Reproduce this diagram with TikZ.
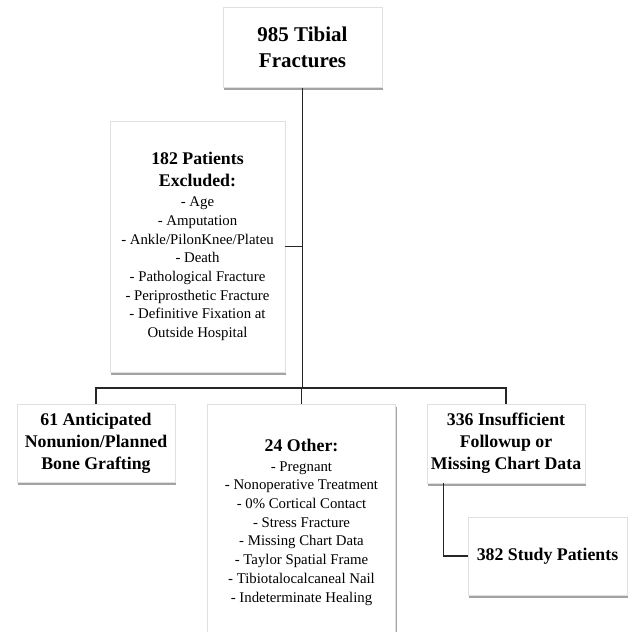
\documentclass[tikz,border=0pt]{standalone}
\usepackage{fontspec}
\setmainfont{Liberation Serif}
\usetikzlibrary{positioning}
\usetikzlibrary{shadows}

\begin{document}
\begin{tikzpicture}[
    x=1pt,y=-1pt,
    box/.style={rectangle,fill=white,draw=black!12,line width=0.4pt,drop shadow={shadow xshift=1.2pt,shadow yshift=-2.5pt,fill=black!45,opacity=0.8},text centered,align=center,inner sep=2pt},
    big/.style={box,font=\fontsize{21}{26}\selectfont\bfseries},
    head/.style={box,font=\fontsize{17.8}{22}\selectfont\bfseries},
    list/.style={box,font=\fontsize{14.8}{18.7}\selectfont},
    arr/.style={line width=1.3pt,draw=black!85}
    ]
    \useasboundingbox (0,0) rectangle (630,632);
    \clip (0,0) rectangle (630,632);
    \node (tibial) [big,minimum width=159pt,minimum height=80pt] at (302.5,47.5) {985 Tibial\\Fractures};
    \node (excl) [list,minimum width=175pt,minimum height=251pt] at (197.5,246.5) {{\fontsize{17.8}{22}\selectfont\bfseries 182 Patients}\\[3.3pt]
      {\fontsize{17.8}{22}\selectfont\bfseries Excluded:}\\[1.3pt]
      - Age\\ - Amputation\\ - Ankle/PilonKnee/Plateu\\ - Death\\ - Pathological Fracture\\
      - Periprosthetic Fracture\\ - Definitive Fixation at\\ Outside Hospital};
    \node (antic) [head,minimum width=158pt,minimum height=78pt] at (96,443) {61 Anticipated\\Nonunion/Planned\\Bone Grafting};
    \node (other) [list,minimum width=188pt,minimum height=236pt] at (301.5,522) {{\fontsize{17.8}{22}\selectfont\bfseries 24 Other:}\\[1.3pt]
      - Pregnant\\ - Nonoperative Treatment\\ - 0\% Cortical Contact\\ - Stress Fracture\\
      - Missing Chart Data\\ - Taylor Spatial Frame\\ - Tibiotalocalcaneal Nail\\ - Indeterminate Healing};
    \node (insuff) [head,minimum width=158pt,minimum height=79pt] at (506,443.5) {336 Insufficient\\Followup or\\Missing Chart Data};
    \node (study) [head,minimum width=159pt,minimum height=78pt] at (547.5,556) {382 Study Patients};
    \coordinate (bus) at (302.5,388);
    \draw[arr] (tibial) -- (bus);
    \draw[arr] (excl.east) -- (excl.east -| tibial);
    \draw[arr] (antic.north) |- (bus) -| (insuff.north);
    \draw[arr] (other) -- (other |- bus);
    \draw[arr] ([xshift=17pt]insuff.south west) |- (study.west);
  \end{tikzpicture}
\end{document}
